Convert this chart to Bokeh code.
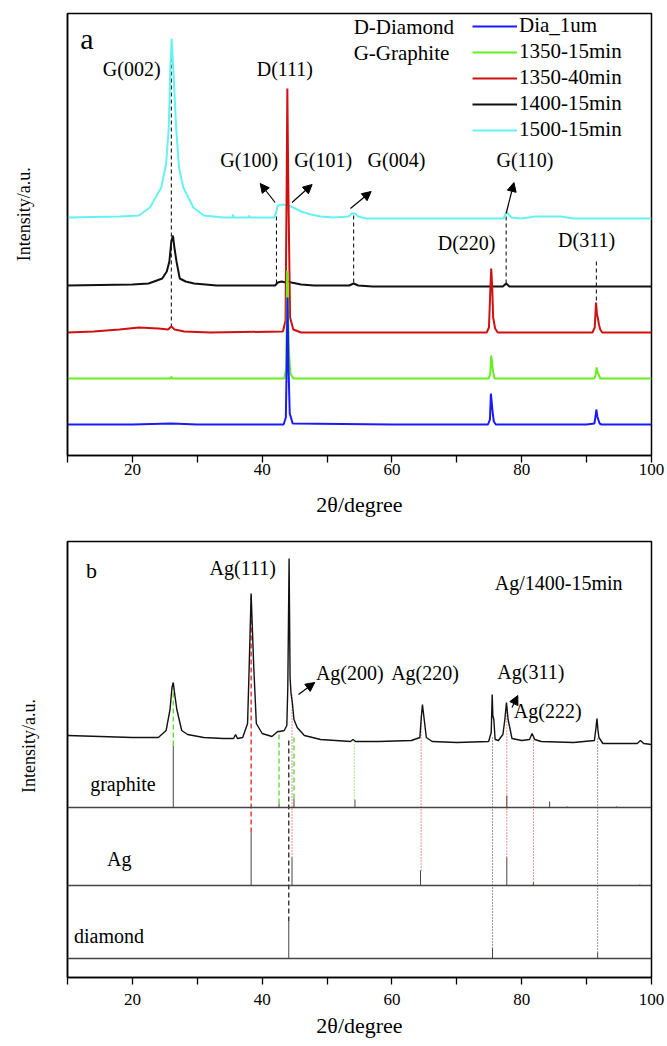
from bokeh.plotting import figure
from bokeh.models import (Range1d, FixedTicker, Legend, LegendItem, Arrow, NormalHead,
                          ColumnDataSource, Span)
from bokeh.layouts import column
from bokeh.embed import file_html
from bokeh.resources import INLINE
from bokeh.core.properties import value

FONT = "'Liberation Serif', 'Times New Roman', serif"

# ---------------- Panel a data (intensity above each trace's own baseline, a.u.) ----------------
series_names = ["Dia_1um", "1350-15min", "1350-40min", "1400-15min", "1500-15min"]
series_colors = ["#1a1aff", "#66ee22", "#d01010", "#111111", "#66f2f2"]
series_offsets = [30, 77, 123, 169, 237]

blue_x = [10, 20, 26, 30, 43.3, 43.65, 43.8, 43.9, 44.05, 44.25, 44.7, 60, 74.8, 75.1, 75.25, 75.35,
          75.5, 75.7, 76.0, 90, 91.2, 91.4, 91.5, 91.65, 91.8, 92.0, 92.3, 100]
blue_i = [1, 1, 2, 1, 1, 8, 70, 128, 60, 12, 2, 1, 1, 6, 32, 25, 14, 4, 1, 1, 2, 10, 16, 9, 6, 2, 1, 1]

green_x = [10, 25.9, 26.0, 26.1, 43.4, 43.7, 43.85, 43.95, 44.1, 44.35, 44.8, 74.9, 75.15, 75.3, 75.4,
           75.55, 75.8, 91.2, 91.4, 91.55, 91.7, 91.85, 92.1, 100]
green_i = [0, 0, 2, 0, 0, 10, 108, 95, 30, 5, 0, 0, 5, 23, 18, 8, 0, 0, 4, 11, 6, 4, 0, 0]

red_x = [10, 14, 18, 21, 24, 25.5, 26.0, 26.5, 28, 32, 43.2, 43.6, 43.78, 43.88, 44.0, 44.3, 44.8, 46,
         74.6, 74.95, 75.15, 75.3, 75.45, 75.6, 75.9, 76.3, 90.9, 91.25, 91.45, 91.6, 91.75, 91.9, 92.1,
         92.4, 100]
red_i = [0, 1, 3, 5, 4, 3, 6, 3, 1, 0, 1, 12, 150, 244, 160, 15, 3, 0, 0, 5, 40, 64, 45, 15, 4, 0, 0,
         5, 30, 18, 14, 8, 3, 0, 0]

black_x = [10, 20, 22.5, 24.6, 25.3, 25.7, 26.0, 26.25, 26.45, 26.8, 27.3, 28.2, 29.5, 33, 42.0, 42.4,
           43.0, 43.6, 44.0, 44.5, 46, 48, 53.4, 54.1, 54.8, 57, 77.1, 77.6, 78.1, 80, 100]
black_i = [1, 2, 3, 8, 15, 25, 45, 51, 40, 25, 8, 5, 3, 1, 1, 4, 5, 4, 5, 4, 2, 1, 1, 3, 1, 0, 0, 3, 0,
           0, 0]

cyan_x = [10, 18, 21, 22.7, 24.45, 25.2, 25.6, 25.85, 26.05, 26.3, 26.75, 27.2, 27.85, 29.4, 31, 34,
          35.4, 35.5, 35.6, 37.9, 38.0, 38.1, 41.9, 42.2, 42.4, 43.2, 44.0, 44.8, 46.0, 47.5, 49, 51,
          53.3, 53.8, 54.3, 54.8, 56, 77.2, 77.6, 77.9, 78.4, 80, 82, 86, 88, 100]
cyan_i = [1, 2, 3, 11, 31, 55, 90, 150, 180, 150, 90, 50, 31, 11, 3, 1, 1, 4, 1, 1, 3, 1, 1, 7, 13, 14,
          13, 11, 7, 4, 2, 1, 2, 5, 5, 2, 0, 0, 6, 5, 1, 0, 2, 2, 0, 0]

a_xs = [blue_x, green_x, red_x, black_x, cyan_x]
a_is = [blue_i, green_i, red_i, black_i, cyan_i]

# peak-marker guide lines (panel a)
a_guide_x = [26.0, 42.2, 54.1, 77.6, 91.5]
a_guide_top = [408, 247, 240, 241, 195]
a_guide_bottom = [128, 172, 173, 172, 155]

a_labels = ["G(002)", "D(111)", "G(100)", "G(101)", "G(004)", "G(110)", "D(220)", "D(311)"]
a_label_x = [19.9, 43.5, 38.0, 49.4, 60.7, 80.5, 71.5, 90.0]
a_label_y = [387, 387, 296, 296, 296, 296, 213, 216]

a_arrow_x0 = [42.0, 44.6, 53.6, 77.6]
a_arrow_y0 = [253, 253, 247, 242]
a_arrow_x1 = [39.7, 47.7, 56.8, 78.8]
a_arrow_y1 = [272, 271, 264, 273]

# ---------------- Panel b data ----------------
b_x = [10, 15, 20, 24, 25.2, 25.8, 26.1, 26.3, 26.55, 26.85, 27.6, 28.5, 31, 34, 35.6, 35.9, 36.2, 37.0,
       37.75, 38.0, 38.3, 38.7, 39.1, 40.0, 41.5, 42.4, 42.7, 43.4, 43.8, 43.95, 44.15, 44.3, 44.45,
       44.65, 44.9, 45.4, 46.5, 49, 53.6, 54.0, 54.4, 58, 63, 64.3, 64.55, 64.7, 64.9, 65.3, 66.2, 70,
       74.9, 75.3, 75.45, 75.55, 75.7, 75.9, 76.4, 77.1, 77.4, 77.65, 77.9, 78.5, 80, 81.2, 81.6, 82.0,
       83, 88, 91.2, 91.45, 91.6, 91.75, 91.9, 92.5, 95, 97.8, 98.3, 98.8, 100]
b_y = [242, 241, 240, 240, 247, 268, 290, 295, 282, 268, 247, 243, 240, 239, 239, 243, 239, 240,
       254, 311, 384, 311, 254, 244, 241, 246, 246, 247, 252, 290, 419, 300, 284,
       275, 258, 250, 242, 238, 236, 238, 236, 236, 237, 240, 262, 273, 262, 240, 236, 235,
       236, 245, 283, 262, 258, 238, 237, 243, 258, 275, 258, 239, 237, 238, 244, 238,
       236, 235, 237, 250, 259, 247, 240, 234, 234, 234, 237, 234, 233]

graphite_base = 170
graphite_x = [26.3, 42.6, 44.9, 54.3, 77.7, 84.3, 87.0, 94.6]
graphite_h = [62, 4, 9, 8, 12, 6, 1, 1]
ag_base = 92
ag_x = [38.3, 44.6, 64.4, 77.7, 81.8, 98.2]
ag_h = [53, 28, 15, 28, 3, 1]
diamond_base = 19
diamond_x = [44.1, 75.5, 91.7]
diamond_h = [37, 10, 6]

# guides: (x, top, bottom)
g_dash_x, g_dash_top, g_dash_bot = [26.3, 42.6, 44.9], [290, 246, 240], [232, 174, 179]
g_dot_x, g_dot_top, g_dot_bot = [54.2], [238], [178]
r_dash_x, r_dash_top, r_dash_bot = [38.3], [384], [145]
k_dash_x, k_dash_top, k_dash_bot = [44.1], [240], [56]
r_dot_x, r_dot_top, r_dot_bot = [44.6, 64.5, 77.7, 81.8], [284, 262, 270, 240], [120, 107, 120, 95]
k_dot_x, k_dot_top, k_dot_bot = [75.5, 91.7], [240, 240], [29, 25]

b_labels = ["Ag(111)", "Ag/1400-15min", "Ag(200)", "Ag(220)", "Ag(311)", "Ag(222)"]
b_label_x = [37.0, 85.7, 53.5, 65.1, 81.4, 84.0]
b_label_y = [410, 395, 305, 305, 306, 267]
b_phase = ["graphite", "Ag", "diamond"]
b_phase_x = [13.5, 16.1, 11.0]
b_phase_y = [194, 119, 42]

b_arrow_x0 = [45.6, 78.5]
b_arrow_y0 = [283, 270]
b_arrow_x1 = [48.1, 79.4]
b_arrow_y1 = [295, 282]

Y_TITLE = "Intensity/a.u."
X_TITLE = "2θ/degree"
NBSP = "\u00a0"


def style(p, tick_standoff, x_title_standoff, y_title_standoff, y_shift):
    p.grid.visible = False
    p.background_fill_color = "white"
    p.border_fill_color = "white"
    p.outline_line_color = "black"
    p.outline_line_width = 1.5
    xa = p.xaxis[0]
    xa.ticker = FixedTicker(ticks=[20, 40, 60, 80, 100], minor_ticks=[10, 30, 50, 70, 90])
    xa.major_tick_out = 7
    xa.major_tick_in = 0
    xa.minor_tick_out = 7
    xa.minor_tick_in = 0
    xa.axis_line_width = 1.5
    xa.major_tick_line_width = 1.3
    xa.minor_tick_line_width = 1.3
    xa.major_label_text_font = FONT
    xa.major_label_text_font_size = "17px"
    xa.major_label_text_color = "black"
    xa.major_label_standoff = tick_standoff
    xa.axis_label = X_TITLE
    xa.axis_label_text_font = FONT
    xa.axis_label_text_font_size = "22px"
    xa.axis_label_text_font_style = "normal"
    xa.axis_label_text_color = "black"
    xa.axis_label_standoff = x_title_standoff
    ya = p.yaxis[0]
    ya.ticker = FixedTicker(ticks=[])
    ya.major_tick_out = 0
    ya.major_tick_in = 0
    ya.minor_tick_out = 0
    ya.minor_tick_in = 0
    ya.major_label_standoff = 0
    ya.axis_line_width = 1.5
    # leading no-break spaces move the (centred) title up along the axis
    ya.axis_label = NBSP * y_shift + Y_TITLE
    ya.axis_label_text_font = FONT
    ya.axis_label_text_font_size = "18px"
    ya.axis_label_text_font_style = "normal"
    ya.axis_label_text_color = "black"
    ya.axis_label_standoff = y_title_standoff


def add_texts(p, texts, xs, ys, size, align="center"):
    src = ColumnDataSource(dict(x=xs, y=ys, t=texts))
    p.text(x="x", y="y", text="t", source=src, text_font=value(FONT), text_font_size=value(size),
           text_align=align, text_baseline="middle", text_color="black")


def add_arrows(p, x0, y0, x1, y1):
    src = ColumnDataSource(dict(x0=x0, y0=y0, x1=x1, y1=y1))
    p.add_layout(Arrow(end=NormalHead(size=9, fill_color="black", line_color="black", line_width=1),
                       x_start="x0", y_start="y0", x_end="x1", y_end="y1", source=src,
                       line_width=1.2, line_color="black"))


# ---------------- Figure a ----------------
pa = figure(width=667, height=525, x_range=Range1d(10, 100), y_range=Range1d(0, 442),
            output_backend="svg", toolbar_location=None,
            min_border_left=64, min_border_right=16, min_border_top=13, min_border_bottom=70)
style(pa, 1, 14, 34, 9)

pa.segment(x0=a_guide_x, y0=a_guide_bottom, x1=a_guide_x, y1=a_guide_top,
           line_color="black", line_width=1, line_dash="4 3")

renderers = {}
for idx in [4, 3, 2, 1, 0]:
    ys = [v + series_offsets[idx] for v in a_is[idx]]
    renderers[idx] = pa.line(a_xs[idx], ys, line_color=series_colors[idx], line_width=2)

legend = Legend(items=[LegendItem(label=series_names[i], renderers=[renderers[i]]) for i in range(5)],
                location="top_right", margin=0, padding=0, spacing=1, glyph_width=45,
                glyph_height=20, label_standoff=2, label_width=132, label_text_font=FONT,
                label_text_font_size="21px", label_text_color="black",
                background_fill_alpha=0, border_line_alpha=0)
pa.add_layout(legend)

add_texts(pa, a_labels, a_label_x, a_label_y, "20px")
add_texts(pa, ["D-Diamond", "G-Graphite"], [54.1, 54.1], [429, 403], "21px", align="left")
add_texts(pa, ["a"], [13.0], [417], "30px")
add_arrows(pa, a_arrow_x0, a_arrow_y0, a_arrow_x1, a_arrow_y1)

# ---------------- Figure b ----------------
pb = figure(width=667, height=519, x_range=Range1d(10, 100), y_range=Range1d(0, 436),
            output_backend="svg", toolbar_location=None,
            min_border_left=67, min_border_right=14, min_border_top=16, min_border_bottom=67)
style(pb, 9, 5, 29, 6)

for base in [graphite_base, ag_base, diamond_base]:
    pb.add_layout(Span(location=base, dimension="width", line_color="#444444", line_width=1.5))

for xs_, hs_, base in [(graphite_x, graphite_h, graphite_base), (ag_x, ag_h, ag_base),
                       (diamond_x, diamond_h, diamond_base)]:
    pb.segment(x0=xs_, y0=[base] * len(xs_), x1=xs_, y1=[base + h for h in hs_],
               line_color="#444444", line_width=1)

pb.segment(x0=g_dash_x, y0=g_dash_bot, x1=g_dash_x, y1=g_dash_top, line_color="#55dd22",
           line_width=1.3, line_dash="5 3")
pb.segment(x0=g_dot_x, y0=g_dot_bot, x1=g_dot_x, y1=g_dot_top, line_color="#55dd22",
           line_width=1, line_dash="1 2")
pb.segment(x0=r_dash_x, y0=r_dash_bot, x1=r_dash_x, y1=r_dash_top, line_color="#e02020",
           line_width=1.3, line_dash="5 3")
pb.segment(x0=k_dash_x, y0=k_dash_bot, x1=k_dash_x, y1=k_dash_top, line_color="#222222",
           line_width=1.3, line_dash="5 3")
pb.segment(x0=r_dot_x, y0=r_dot_bot, x1=r_dot_x, y1=r_dot_top, line_color="#e02020",
           line_width=1, line_dash="1 2")
pb.segment(x0=k_dot_x, y0=k_dot_bot, x1=k_dot_x, y1=k_dot_top, line_color="#333333",
           line_width=1, line_dash="1 2")

pb.line(b_x, b_y, line_color="#111111", line_width=1.4)

add_texts(pb, b_labels, b_label_x, b_label_y, "20px")
add_texts(pb, b_phase, b_phase_x, b_phase_y, "20px", align="left")
add_texts(pb, ["b"], [13.7], [407], "22px")
add_arrows(pb, b_arrow_x0, b_arrow_y0, b_arrow_x1, b_arrow_y1)

layout = column(pa, pb, spacing=0)
open("out.html", "w").write(file_html(layout, INLINE))
